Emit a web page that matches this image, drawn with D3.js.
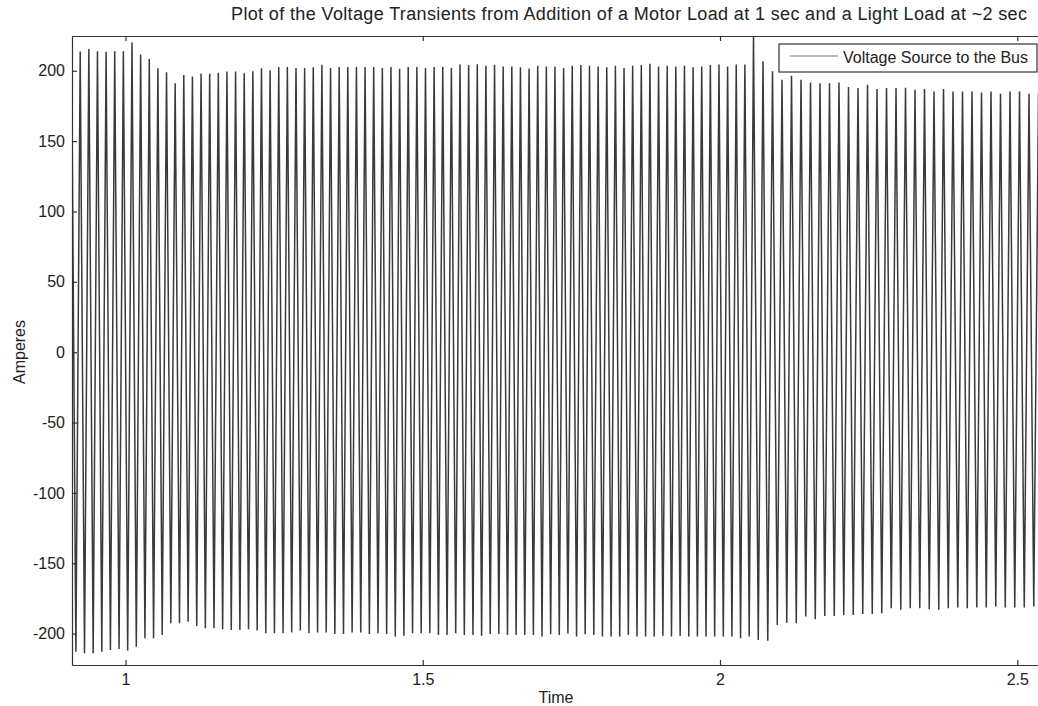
<!DOCTYPE html>
<html>
<head>
<meta charset="utf-8">
<script src="https://cdn.jsdelivr.net/npm/d3@7"></script>
<style>
  html, body { margin: 0; padding: 0; background: #fff; }
  svg { display: block; }
  text { font-family: "Liberation Sans", Arial, sans-serif; fill: #222; }
</style>
</head>
<body>
<svg id="chart" width="1038" height="706"></svg>
<script>
// ---------------- DATA ----------------
const titleText = "Plot of the Voltage Transients from Addition of a Motor Load at 1 sec and a Light Load at ~2 sec";
const xLabel = "Time";
const yLabel = "Amperes";
const legendLabel = "Voltage Source to the Bus";

const xTicks = [1, 1.5, 2, 2.5];
const yTicks = [-200, -150, -100, -50, 0, 50, 100, 150, 200];
const xDomain = [0.91, 2.56];
const yDomain = [-222.3, 224.7];

// cycle timing (seconds), read from crest positions
const firstCrestTime = 0.9238;      // crest index 0
const periodBefore = 0.01452;        // crest spacing before the light load
const loadStepCrest = 78;            // crest index of the spike at ~2.06 s
const periodAfter = 0.01598;         // crest spacing after the light load

// positive crests, index -1 .. 108
const crestValues = [
  212,
  213.7, 215.4, 213.8, 213.5, 213.8, 213.8, 220, 211.5, 208.3, 201.8,
  199, 191.2, 197, 196, 197.9, 197.9, 198.6, 199.5, 199.5, 198.2,
  199.6, 201.7, 200.3, 202.6, 202.6, 202, 202, 202.5, 204.2, 202,
  202.6, 202.6, 202.6, 202.6, 202.6, 202, 202.6, 201.5, 202.6, 202.6,
  202, 202.6, 202.6, 202, 204.5, 204, 204.6, 203.5, 204.2, 203,
  203, 202.5, 201.6, 203.5, 203, 203, 202, 203.5, 204, 203.5,
  203, 202.5, 203.5, 202, 203.5, 204, 205, 203, 203.5, 203,
  203.5, 202.5, 203, 204, 204.5, 203, 204.5, 204.5, 224.5, 206.7,
  199.6, 193.6, 196.4, 193.6, 191.7, 191.2, 191.2, 191.7, 188.4, 187.7,
  190, 187, 187.7, 187.7, 188, 186.5, 187, 185.3, 187, 185.3,
  185.3, 185.3, 184.6, 185.3, 183.6, 185.3, 185.3, 183.6, 184
];

// negative troughs, index 0 .. 108 (trough i lies before crest i)
const troughValues = [
  -212.8, -214, -214, -212.8, -211.6, -211, -212, -209.3, -203.3, -203.3,
  -201, -192.6, -192.6, -191.5, -194.5, -196.2, -196.2, -196.9, -197.4, -197.4,
  -196.9, -197.8, -199.7, -199.7, -199.7, -199.2, -197.8, -199.7, -199.2, -199.2,
  -200.2, -200.2, -199.2, -199.2, -200.2, -199.7, -200.2, -202, -201.5, -199.7,
  -199.7, -199.7, -200.9, -200.9, -199.7, -200.9, -200.9, -201.5, -200.2, -200.2,
  -200.9, -200.9, -200.9, -200.9, -202, -200.5, -201, -200, -202.1, -200.4,
  -201, -202.1, -202.1, -202.1, -201, -202.1, -202.1, -202.1, -201.6, -202.1,
  -201.6, -202.1, -202.1, -202.1, -202.1, -202.1, -202.1, -203.3, -202.1, -204.5,
  -205, -193.8, -192.2, -192.6, -187.9, -189.8, -187.5, -187.5, -186.7, -186.7,
  -186, -186, -185.5, -181.9, -183, -181.9, -181.9, -182.6, -183, -181.9,
  -181.4, -181.9, -181.4, -181.4, -180.8, -181.4, -181.4, -181.4, -180.8
];

// ---------------- BUILD POINTS ----------------
function crestTime(k) {
  if (k <= loadStepCrest) return firstCrestTime + k * periodBefore;
  return firstCrestTime + loadStepCrest * periodBefore + (k - loadStepCrest) * periodAfter;
}
const points = [];
points.push({ t: crestTime(-1), v: crestValues[0] });
for (let i = 0; i < troughValues.length; i++) {
  points.push({ t: (crestTime(i - 1) + crestTime(i)) / 2, v: troughValues[i] });
  if (i + 1 < crestValues.length) points.push({ t: crestTime(i), v: crestValues[i + 1] });
}

// ---------------- LAYOUT ----------------
const svg = d3.select("#chart");
const plotLeft = 72, plotTop = 36, plotBottom = 665;
const pxPerSec = 594.5;
const plotRight = plotLeft + (xDomain[1] - xDomain[0]) * pxPerSec;

const x = d3.scaleLinear().domain(xDomain).range([plotLeft, plotRight]);
const y = d3.scaleLinear().domain(yDomain).range([plotBottom, plotTop]);

svg.append("defs").append("clipPath").attr("id", "plotClip")
  .append("rect").attr("x", plotLeft).attr("y", plotTop)
  .attr("width", plotRight - plotLeft).attr("height", plotBottom - plotTop);

// data line
svg.append("path")
  .datum(points)
  .attr("clip-path", "url(#plotClip)")
  .attr("fill", "none")
  .attr("stroke", "#3a3a3a")
  .attr("stroke-width", 1.5)
  .attr("stroke-linejoin", "miter")
  .attr("stroke-miterlimit", 2)
  .attr("d", d3.line().x(d => x(d.t)).y(d => y(d.v)));

// axes (MATLAB style, ticks pointing inward)
const fmt = d => String(d);
const gL = svg.append("g").attr("transform", `translate(${plotLeft},0)`)
  .call(d3.axisLeft(y).tickValues(yTicks).tickFormat(fmt).tickSizeInner(-5).tickSizeOuter(0).tickPadding(7));
const gB = svg.append("g").attr("transform", `translate(0,${plotBottom})`)
  .call(d3.axisBottom(x).tickValues(xTicks).tickFormat(fmt).tickSizeInner(-5).tickSizeOuter(0).tickPadding(9));
const gT = svg.append("g").attr("transform", `translate(0,${plotTop})`)
  .call(d3.axisTop(x).tickValues(xTicks).tickFormat("").tickSizeInner(-5).tickSizeOuter(0));
[gL, gB, gT].forEach(g => {
  g.select(".domain").attr("stroke", "#333").attr("stroke-width", 1.2);
  g.selectAll(".tick line").attr("stroke", "#333").attr("stroke-width", 1.2);
  g.selectAll(".tick text").attr("font-size", 16).attr("fill", "#222")
    .style("font-family", "'Liberation Sans', Arial, sans-serif");
});

// title and labels
svg.append("text").attr("x", 629).attr("y", 20).attr("text-anchor", "middle")
  .attr("font-size", 18).attr("textLength", 796).attr("lengthAdjust", "spacing")
  .text(titleText);
svg.append("text").attr("x", 556).attr("y", 703).attr("text-anchor", "middle")
  .attr("font-size", 16).text(xLabel);
svg.append("text").attr("transform", "translate(25,352) rotate(-90)")
  .attr("text-anchor", "middle").attr("font-size", 16).text(yLabel);

// legend
const lg = svg.append("g");
lg.append("rect").attr("x", 779).attr("y", 44).attr("width", 258).attr("height", 28)
  .attr("fill", "#fff").attr("stroke", "#333").attr("stroke-width", 1.2);
lg.append("line").attr("x1", 790).attr("x2", 838).attr("y1", 56).attr("y2", 56)
  .attr("stroke", "#777").attr("stroke-width", 1);
lg.append("text").attr("x", 843).attr("y", 63).attr("font-size", 16).text(legendLabel);
</script>
</body>
</html>
